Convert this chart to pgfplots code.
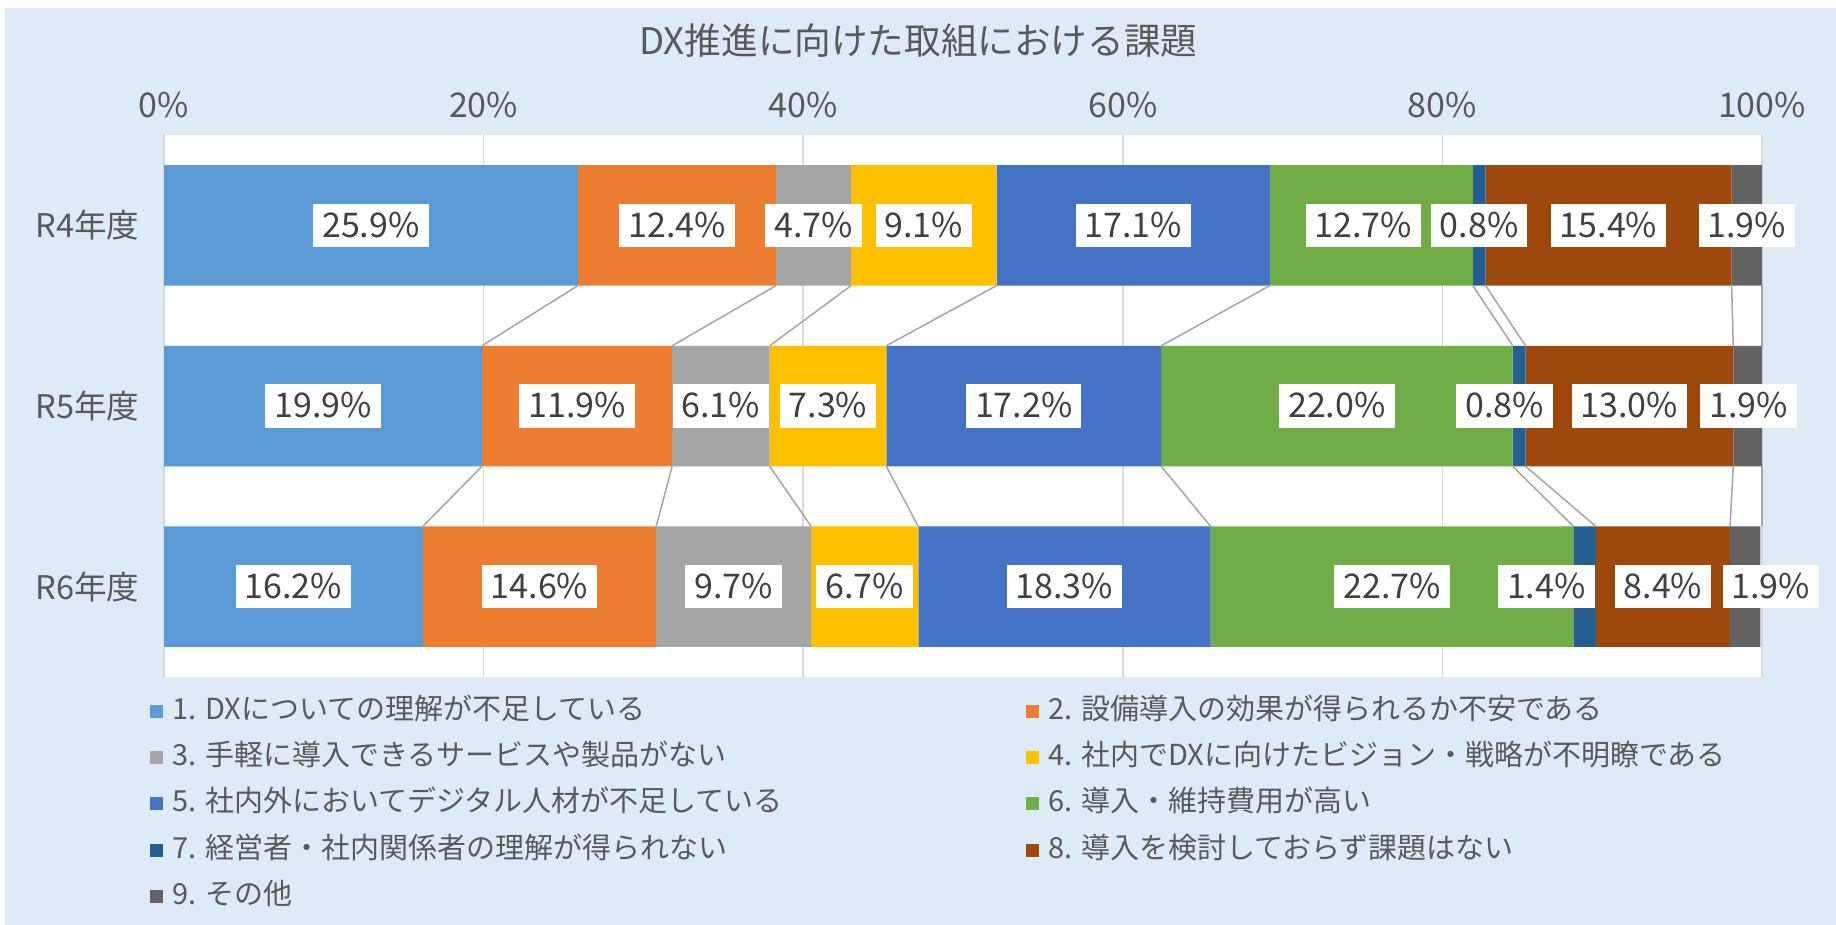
\documentclass[border=0pt]{standalone}
\usepackage{fontspec}
\setmainfont{Noto Sans CJK JP}
\usepackage{pgfplots}
\usepackage{pgfplotstable}
\pgfplotsset{compat=1.18}

\definecolor{bgblue}{HTML}{DEEBF7}
\definecolor{c1}{HTML}{5B9BD5}
\definecolor{c2}{HTML}{ED7D31}
\definecolor{c3}{HTML}{A5A5A5}
\definecolor{c4}{HTML}{FFC000}
\definecolor{c5}{HTML}{4472C4}
\definecolor{c6}{HTML}{70AD47}
\definecolor{c7}{HTML}{255E91}
\definecolor{c8}{HTML}{9E480E}
\definecolor{c9}{HTML}{636363}
\definecolor{txt}{HTML}{595959}
\definecolor{lbl}{HTML}{404040}
\definecolor{gridc}{HTML}{D9D9D9}
\definecolor{serc}{HTML}{A5A5A5}

\pgfplotsset{sqlegend/.style={legend image code/.code={\fill[##1] (0pt,-3.25pt) rectangle (6.5pt,3.25pt);}}}

% shares (%), one row per year: R4 = 0, R5 = 1, R6 = 2
\pgfplotstableread{
y s1 s2 s3 s4 s5 s6 s7 s8 s9
0 25.9 12.4 4.7 9.1 17.1 12.7 0.8 15.4 1.9
1 19.9 11.9 6.1 7.3 17.2 22.0 0.8 13.0 1.9
2 16.2 14.6 9.7 6.7 18.3 22.7 1.4 8.4 1.9
}\datatable

% series lines: cumulative boundaries, R4 bottom -> R5 top
\pgfplotstableread{
y b1 b2 b3 b4 b5 b6 b7 b8 b9
0.3335 25.9 38.3 43.0 52.1 69.2 81.9 82.7 98.1 100
0.6665 19.9 31.8 37.9 45.2 62.4 84.4 85.2 98.2 100
}\linesA
% R5 bottom -> R6 top
\pgfplotstableread{
y b1 b2 b3 b4 b5 b6 b7 b8 b9
1.3335 19.9 31.8 37.9 45.2 62.4 84.4 85.2 98.2 100
1.6665 16.2 30.8 40.5 47.2 65.5 88.2 89.6 98.0 100
}\linesB

% data label positions (label centres)
\pgfplotstableread{
x y lab
12.95 0 25.9
32.1 0 12.4
40.65 0 4.7
47.55 0 9.1
60.65 0 17.1
75.05 0 12.7
82.3 0 0.8
90.4 0 15.4
99.05 0 1.9
9.95 1 19.9
25.85 1 11.9
34.85 1 6.1
41.55 1 7.3
53.8 1 17.2
73.4 1 22.0
83.9 1 0.8
91.7 1 13.0
99.15 1 1.9
8.1 2 16.2
23.5 2 14.6
35.65 2 9.7
43.85 2 6.7
56.35 2 18.3
76.85 2 22.7
86.5 2 1.4
93.8 2 8.4
100.55 2 1.9
}\labtable

\begin{document}
\begin{tikzpicture}
\fill[white] (0,0) rectangle (918pt,462.5pt);
\fill[bgblue] (2.5pt,0) rectangle (918pt,458.5pt);

\begin{axis}[
  at={(82pt,124pt)}, anchor=south west,
  scale only axis, width=799pt, height=271pt,
  xbar stacked, bar width=0.667,
  xmin=0, xmax=100, ymin=-0.5, ymax=2.5, y dir=reverse,
  xtick={0,20,...,100},
  xticklabel={\pgfmathprintnumber{\tick}\%},
  xticklabel pos=top,
  ytick={0,1,2}, yticklabels={R4年度,R5年度,R6年度},
  major tick length=0pt,
  axis line style={draw=none},
  xmajorgrids, grid style={gridc, line width=0.75pt},
  axis background/.style={fill=white},
  /pgf/number format/assume math mode=true,
  tick label style={text=txt, font=\fontsize{17}{20}\selectfont},
  xticklabel style={anchor=center, inner sep=0pt, yshift=15pt},
  yticklabel style={anchor=east, inner sep=0pt, xshift=-12pt, font=\fontsize{16.3}{20}\selectfont},
  title={DX推進に向けた取組における課題},
  title style={at={(0.472,1)}, anchor=center, yshift=41pt, text=txt, font=\fontsize{18.3}{22}\selectfont},
  legend columns=2,
  legend cell align=left,
  legend style={at={(0,0)}, anchor=north west, xshift=-7pt, yshift=-10pt,
    draw=none, fill=none, inner sep=0pt, row sep=9.1pt,
    font=\fontsize{14.5}{18}\selectfont, text=txt,
    nodes={inner sep=0pt, text height=11pt, text depth=3pt},
    /tikz/every odd column/.append style={column sep=4.5pt}},
]
\addplot[fill=c1, draw=none, sqlegend] table[x=s1, y=y] {\datatable};
\addplot[fill=c2, draw=none, sqlegend] table[x=s2, y=y] {\datatable};
\addplot[fill=c3, draw=none, sqlegend] table[x=s3, y=y] {\datatable};
\addplot[fill=c4, draw=none, sqlegend] table[x=s4, y=y] {\datatable};
\addplot[fill=c5, draw=none, sqlegend] table[x=s5, y=y] {\datatable};
\addplot[fill=c6, draw=none, sqlegend] table[x=s6, y=y] {\datatable};
\addplot[fill=c7, draw=none, sqlegend] table[x=s7, y=y] {\datatable};
\addplot[fill=c8, draw=none, sqlegend] table[x=s8, y=y] {\datatable};
\addplot[fill=c9, draw=none, sqlegend] table[x=s9, y=y] {\datatable};
\addlegendentry{\makebox[427pt][l]{1. DXについての理解が不足している}}
\addlegendentry{2. 設備導入の効果が得られるか不安である}
\addlegendentry{\makebox[427pt][l]{3. 手軽に導入できるサービスや製品がない}}
\addlegendentry{4. 社内でDXに向けたビジョン・戦略が不明瞭である}
\addlegendentry{\makebox[427pt][l]{5. 社内外においてデジタル人材が不足している}}
\addlegendentry{6. 導入・維持費用が高い}
\addlegendentry{\makebox[427pt][l]{7. 経営者・社内関係者の理解が得られない}}
\addlegendentry{8. 導入を検討しておらず課題はない}
\addlegendentry{\makebox[427pt][l]{9. その他}}
\end{axis}

\begin{axis}[
  at={(82pt,124pt)}, anchor=south west,
  scale only axis, width=799pt, height=271pt,
  xmin=0, xmax=100, ymin=-0.5, ymax=2.5, y dir=reverse,
  hide axis, clip=false,
]
\pgfplotsinvokeforeach{1,...,9}{
  \addplot[serc, line width=0.75pt] table[x=b#1, y=y] {\linesA};
  \addplot[serc, line width=0.75pt] table[x=b#1, y=y] {\linesB};
}
\addplot[draw=none, mark=none,
  point meta=explicit symbolic,
  nodes near coords={\pgfplotspointmeta\%},
  every node near coord/.style={fill=white, text=lbl, anchor=center,
    font=\fontsize{17}{20}\selectfont, inner xsep=4.5pt, inner ysep=3.25pt,
    text height=13.5pt, text depth=1.5pt}]
  table[x=x, y=y, meta=lab] {\labtable};
\end{axis}

\pgfresetboundingbox
\path (0,0) rectangle (918pt,462.5pt);
\end{tikzpicture}
\end{document}
